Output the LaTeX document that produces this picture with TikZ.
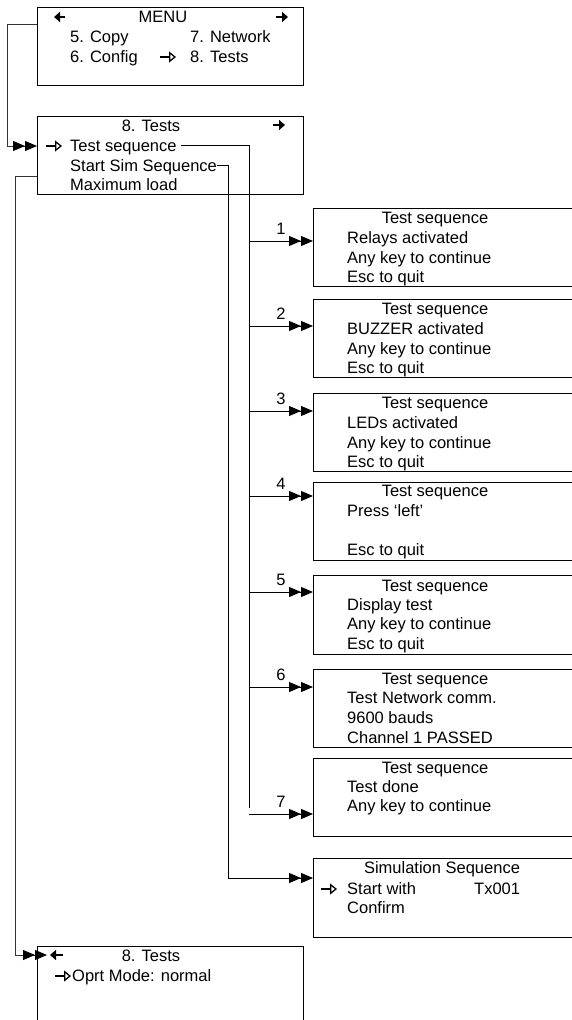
\documentclass[tikz,border=0pt]{standalone}
\usepackage{fontspec}
\setmainfont{Liberation Sans}
\usetikzlibrary{arrows.meta}
\tikzset{
  box/.style={draw, line width=1.2pt, anchor=north west, inner sep=0pt, minimum height=78pt},
  txt/.style={anchor=west, inner sep=0pt, font=\fontsize{16.5}{19}\selectfont, text height=13pt, text depth=2pt},
  ctxt/.style={txt, anchor=center},
  conn/.style={line width=1pt},
  gconn/.style={line width=0.8pt, black!80},
  dbl/.style={-{Triangle[length=12pt,width=10pt,black]Triangle[length=12pt,width=10pt,black]}},
  ptr/.style={line width=1.3pt, -{Triangle[open, length=7pt, width=11pt]}},
  barrow/.style={line width=2pt, -{Triangle[length=6pt,width=10pt]}},
}
\begin{document}
\begin{tikzpicture}[x=1pt,y=-1pt]
\useasboundingbox (0,0) rectangle (572,1020);
\clip (0,0) rectangle (572,1020);

% ---- MENU box
\node[box, minimum width=266pt] (menu) at (37,7) {};
\node[ctxt] (mt) at (163,17) {MENU};
\draw[barrow] (65,17) -- (54,17);
\draw[barrow] (276,17) -- (288,17);
\node[txt] (m5) at (70,37) {5. Copy};
\node[txt] (m7) at (190,37) {7. Network};
\node[txt] (m6) at (70,57) {6. Config};
\node[txt] (m8) at (190,57) {8. Tests};
\draw[ptr] (160,57) -- (176,57);

% ---- 8. Tests box
\node[box, minimum width=266pt] (tb) at (37,116) {};
\node[ctxt] (tt) at (151,126) {8. Tests};
\draw[barrow] (273,125) -- (285,125);
\draw[ptr] (46,146) -- (62,146);
\node[txt] (ts) at (70,146) {Test sequence};
\node[txt] (ss) at (70,166) {Start Sim Sequence};
\node[txt] (ml) at (70,185) {Maximum load};

% ---- Test sequence boxes
\node[box, minimum width=280pt] (b1) at (313,208) {};
\node[ctxt] at (435,218) {Test sequence};
\node[txt] at (347,238) {Relays activated};
\node[txt] at (347,258) {Any key to continue};
\node[txt] at (347,277) {Esc to quit};

\node[box, minimum width=280pt] (b2) at (313,299) {};
\node[ctxt] at (435,309) {Test sequence};
\node[txt] at (347,329) {BUZZER activated};
\node[txt] at (347,349) {Any key to continue};
\node[txt] at (347,368) {Esc to quit};

\node[box, minimum width=280pt] (b3) at (313,393) {};
\node[ctxt] at (435,403) {Test sequence};
\node[txt] at (347,423) {LEDs activated};
\node[txt] at (347,443) {Any key to continue};
\node[txt] at (347,462) {Esc to quit};

\node[box, minimum width=280pt] (b4) at (313,482) {};
\node[ctxt] at (435,491) {Test sequence};
\node[txt] at (347,511) {Press ‘left’};
\node[txt] at (347,550) {Esc to quit};

\node[box, minimum width=280pt, minimum height=79pt] (b5) at (313,575) {};
\node[ctxt] at (435,586) {Test sequence};
\node[txt] at (347,605) {Display test};
\node[txt] at (347,624) {Any key to continue};
\node[txt] at (347,644) {Esc to quit};

\node[box, minimum width=280pt] (b6) at (313,669) {};
\node[ctxt] at (435,679) {Test sequence};
\node[txt] at (347,698) {Test Network comm.};
\node[txt] at (347,718) {9600 bauds};
\node[txt] at (347,738) {Channel 1 PASSED};

\node[box, minimum width=280pt] (b7) at (313,758) {};
\node[ctxt] at (435,768) {Test sequence};
\node[txt] at (347,787) {Test done};
\node[txt] at (347,806) {Any key to continue};

% ---- Simulation box
\node[box, minimum width=280pt, minimum height=79pt] (sim) at (313,858) {};
\node[ctxt] at (442,868) {Simulation Sequence};
\draw[ptr] (321,889) -- (337,889);
\node[txt] at (347,889) {Start with};
\node[txt] at (474,889) {Tx001};
\node[txt] at (347,908) {Confirm};

% ---- bottom 8. Tests box
\node[box, minimum width=266pt, minimum height=110pt] (bb) at (37,946) {};
\node[ctxt] (bt) at (151,956) {8. Tests};
\draw[barrow] (63,955) -- (50,955);
\draw[ptr] (55,976) -- (71,976);
\node[txt] at (72,976) {Oprt Mode: normal};

% ---- connectors
\draw[gconn, dbl] ([yshift=-17pt]menu.north west) -- ++(-30,0) |- ([yshift=-30pt]tb.north west);
\draw[gconn, dbl] ([yshift=-60pt]tb.north west) -- ++(-22,0) |- ([xshift=10pt,yshift=-9pt]bb.north west);

\coordinate (tk) at (249,808);
\draw[conn] ([xshift=4pt,yshift=1pt]ts.east) -| (tk);
\coordinate (c1) at (249,241);
\coordinate (c2) at (249,326);
\coordinate (c3) at (249,411);
\coordinate (c4) at (249,496);
\coordinate (c5) at (249,592);
\coordinate (c6) at (249,687);
\coordinate (c7) at (249,814);
\foreach \i in {1,...,7}{
  \draw[conn, dbl] (c\i) -- (c\i -| b\i.west);
  \node[ctxt] (n\i) at ([xshift=32pt,yshift=12pt]c\i) {\i};
}

\coordinate (st) at (228,878);
\draw[conn, dbl] ([yshift=1pt]ss.east) -| (st) -- (st -| sim.west);
\end{tikzpicture}
\end{document}
